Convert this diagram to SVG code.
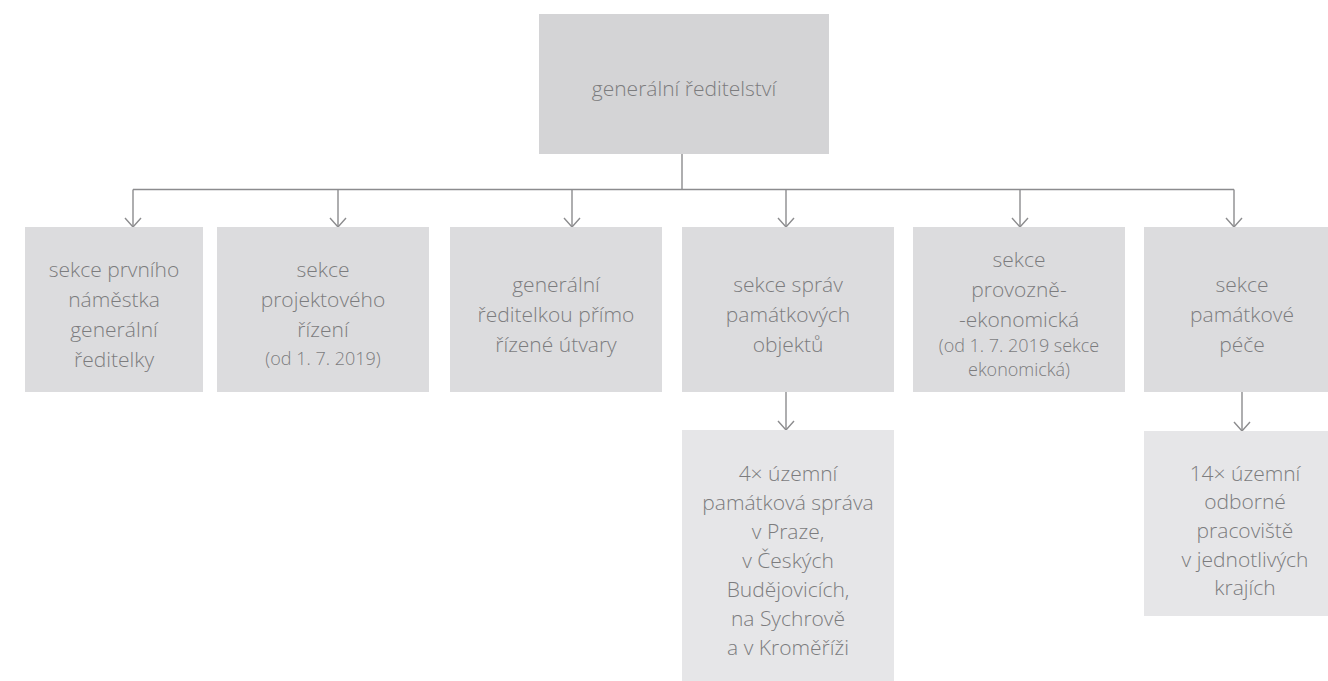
<svg xmlns="http://www.w3.org/2000/svg" width="1328" height="681" viewBox="0 0 1328 681">
<defs>
<style>
.t{font-family:"Open Sans","Noto Sans","DejaVu Sans",sans-serif;font-weight:300;font-size:21px;fill:#7c7c7e;text-anchor:middle}
.s{font-size:18px}
.b0{fill:#d4d4d6}
.b1{fill:#dcdcde}
.b2{fill:#e6e6e8}
.c{stroke:#8c8c8e;stroke-width:1.4;fill:none}
</style>
<marker id="ah" viewBox="0 0 11 18" refX="10" refY="9" markerWidth="11" markerHeight="18" markerUnits="userSpaceOnUse" orient="auto">
<path d="M1,1 L10,9 L1,17" fill="none" stroke="#8c8c8e" stroke-width="1.4"/>
</marker>
</defs>
<rect width="1328" height="681" fill="#ffffff"/>
<g id="connectors" class="c">
<line x1="682" y1="154" x2="682" y2="189.5"/>
<line x1="133" y1="189.5" x2="1234" y2="189.5"/>
<line x1="133" y1="189.5" x2="133" y2="227" marker-end="url(#ah)"/>
<line x1="338" y1="189.5" x2="338" y2="227" marker-end="url(#ah)"/>
<line x1="572" y1="189.5" x2="572" y2="227" marker-end="url(#ah)"/>
<line x1="786" y1="189.5" x2="786" y2="227" marker-end="url(#ah)"/>
<line x1="1020" y1="189.5" x2="1020" y2="227" marker-end="url(#ah)"/>
<line x1="1234" y1="189.5" x2="1234" y2="227" marker-end="url(#ah)"/>
<line x1="786" y1="392" x2="786" y2="430" marker-end="url(#ah)"/>
<line x1="1242" y1="392" x2="1242" y2="431" marker-end="url(#ah)"/>
</g>
<g id="n0"><rect class="b0" x="539" y="14" width="290" height="140"/>
<text class="t" x="684" y="96">generální ředitelství</text></g>
<g id="n1"><rect class="b1" x="25" y="227" width="178" height="165"/>
<text class="t" x="114"><tspan x="114" y="277">sekce prvního</tspan><tspan x="114" y="307">náměstka</tspan><tspan x="114" y="337">generální</tspan><tspan x="114" y="367">ředitelky</tspan></text></g>
<g id="n2"><rect class="b1" x="217" y="227" width="212" height="165"/>
<text class="t" x="323"><tspan x="323" y="277">sekce</tspan><tspan x="323" y="307">projektového</tspan><tspan x="323" y="337">řízení</tspan><tspan class="s" x="323" y="365">(od 1. 7. 2019)</tspan></text></g>
<g id="n3"><rect class="b1" x="450" y="227" width="212" height="165"/>
<text class="t" x="556"><tspan x="556" y="292">generální</tspan><tspan x="556" y="322">ředitelkou přímo</tspan><tspan x="556" y="352">řízené útvary</tspan></text></g>
<g id="n4"><rect class="b1" x="682" y="227" width="212" height="165"/>
<text class="t" x="788"><tspan x="788" y="292">sekce správ</tspan><tspan x="788" y="322">památkových</tspan><tspan x="788" y="352">objektů</tspan></text></g>
<g id="n5"><rect class="b1" x="913" y="227" width="212" height="165"/>
<text class="t" x="1019"><tspan x="1019" y="267">sekce</tspan><tspan x="1019" y="297">provozně-</tspan><tspan x="1019" y="327">-ekonomická</tspan><tspan class="s" x="1019" y="352">(od 1. 7. 2019 sekce</tspan><tspan class="s" x="1019" y="376">ekonomická)</tspan></text></g>
<g id="n6"><rect class="b1" x="1144" y="227" width="196" height="165"/>
<text class="t" x="1242"><tspan x="1242" y="292">sekce</tspan><tspan x="1242" y="322">památkové</tspan><tspan x="1242" y="352">péče</tspan></text></g>
<g id="n7"><rect class="b2" x="682" y="430" width="212" height="251"/>
<text class="t" x="788"><tspan x="788" y="481">4× územní</tspan><tspan x="788" y="510">památková správa</tspan><tspan x="788" y="539">v Praze,</tspan><tspan x="788" y="568">v Českých</tspan><tspan x="788" y="597">Budějovicích,</tspan><tspan x="788" y="626">na Sychrově</tspan><tspan x="788" y="655">a v Kroměříži</tspan></text></g>
<g id="n8"><rect class="b2" x="1144" y="431" width="200" height="185"/>
<text class="t" x="1245"><tspan x="1245" y="481">14× územní</tspan><tspan x="1245" y="509">odborné</tspan><tspan x="1245" y="538">pracoviště</tspan><tspan x="1245" y="567">v jednotlivých</tspan><tspan x="1245" y="595">krajích</tspan></text></g>
</svg>
